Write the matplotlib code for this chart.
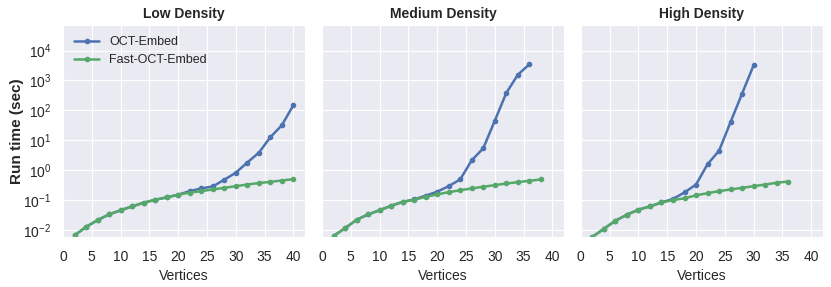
import numpy as np
import matplotlib
matplotlib.use("Agg")
import matplotlib.pyplot as plt
import seaborn as sns

# Run times (sec), as log10 values
LOW_X = [2, 4, 6, 8, 10, 12, 14, 16, 18, 20, 22, 24, 26, 28, 30, 32, 34, 36, 38, 40]
LOW_OCT = [-2.18, -1.90, -1.67, -1.48, -1.34, -1.21, -1.09, -0.99, -0.91, -0.82,
           -0.70, -0.61, -0.545, -0.32, -0.087, 0.257, 0.58, 1.10, 1.50, 2.17]
LOW_FAST = [-2.18, -1.90, -1.67, -1.48, -1.34, -1.21, -1.09, -0.99, -0.91, -0.82,
            -0.75, -0.70, -0.645, -0.59, -0.535, -0.48, -0.43, -0.39, -0.345, -0.30]

MED_X_OCT = [2, 4, 6, 8, 10, 12, 14, 16, 18, 20, 22, 24, 26, 28, 30, 32, 34, 36]
MED_OCT = [-2.20, -1.94, -1.66, -1.48, -1.34, -1.19, -1.06, -0.98, -0.85, -0.72,
           -0.535, -0.31, 0.33, 0.73, 1.65, 2.58, 3.19, 3.54]
MED_X_FAST = [2, 4, 6, 8, 10, 12, 14, 16, 18, 20, 22, 24, 26, 28, 30, 32, 34, 36, 38]
MED_FAST = [-2.20, -1.94, -1.66, -1.48, -1.34, -1.19, -1.06, -0.99, -0.89, -0.81,
            -0.735, -0.67, -0.61, -0.555, -0.50, -0.445, -0.40, -0.355, -0.31]

HIGH_X_OCT = [2, 4, 6, 8, 10, 12, 14, 16, 18, 20, 22, 24, 26, 28, 30]
HIGH_OCT = [-2.23, -1.96, -1.69, -1.49, -1.32, -1.21, -1.08, -0.96, -0.745, -0.48,
            0.20, 0.65, 1.61, 2.56, 3.51]
HIGH_X_FAST = [2, 4, 6, 8, 10, 12, 14, 16, 18, 20, 22, 24, 26, 28, 30, 32, 34, 36]
HIGH_FAST = [-2.23, -1.96, -1.69, -1.49, -1.32, -1.21, -1.08, -1.00, -0.94, -0.84,
             -0.77, -0.70, -0.645, -0.59, -0.535, -0.48, -0.42, -0.38]

PANELS = [
    ("Low Density", LOW_X, LOW_OCT, LOW_X, LOW_FAST),
    ("Medium Density", MED_X_OCT, MED_OCT, MED_X_FAST, MED_FAST),
    ("High Density", HIGH_X_OCT, HIGH_OCT, HIGH_X_FAST, HIGH_FAST),
]

BLUE = "#4C72B0"
GREEN = "#55A868"

sns.set_style("darkgrid")
plt.rcParams["font.family"] = ["Liberation Sans", "DejaVu Sans"]
plt.rcParams["mathtext.fontset"] = "custom"
plt.rcParams["mathtext.rm"] = "Liberation Sans"
plt.rcParams["mathtext.it"] = "Liberation Sans:italic"
plt.rcParams["mathtext.bf"] = "Liberation Sans:bold"

fig = plt.figure(figsize=(8.31, 2.87), dpi=100)
lefts = [0.0758, 0.3875, 0.699]
width = 0.291
bottom, top = 0.174, 0.913

axes = []
for i, (title, xo, yo, xf, yf) in enumerate(PANELS):
    ax = fig.add_axes([lefts[i], bottom, width, top - bottom],
                      sharey=axes[0] if axes else None)
    axes.append(ax)
    ax.plot(xo, 10 ** np.array(yo), marker="o", color=BLUE, lw=1.8,
            markersize=3, label="OCT-Embed")
    ax.plot(xf, 10 ** np.array(yf), marker="o", color=GREEN, lw=1.8,
            markersize=3, label="Fast-OCT-Embed")
    ax.set_yscale("log")
    ax.set_ylim(0.0058, 7.2e4)
    ax.set_xlim(0, 42)
    ax.set_xticks(range(0, 41, 5))
    ax.set_yticks([1e-2, 1e-1, 1e0, 1e1, 1e2, 1e3, 1e4])
    ax.minorticks_off()
    ax.set_title(title, fontsize=10, fontweight="bold", pad=5)
    ax.set_xlabel("Vertices", fontsize=10, labelpad=4)
    ax.tick_params(axis="x", labelsize=10, pad=5.5)
    ax.tick_params(axis="y", labelsize=10, pad=5)
    if i == 0:
        ax.set_ylabel("Run time (sec)", fontsize=11, fontweight="bold", labelpad=-1)
        ax.legend(loc="upper left", fontsize=9, frameon=False)
    else:
        ax.tick_params(labelleft=False)

fig.savefig("out.png", dpi=100)
